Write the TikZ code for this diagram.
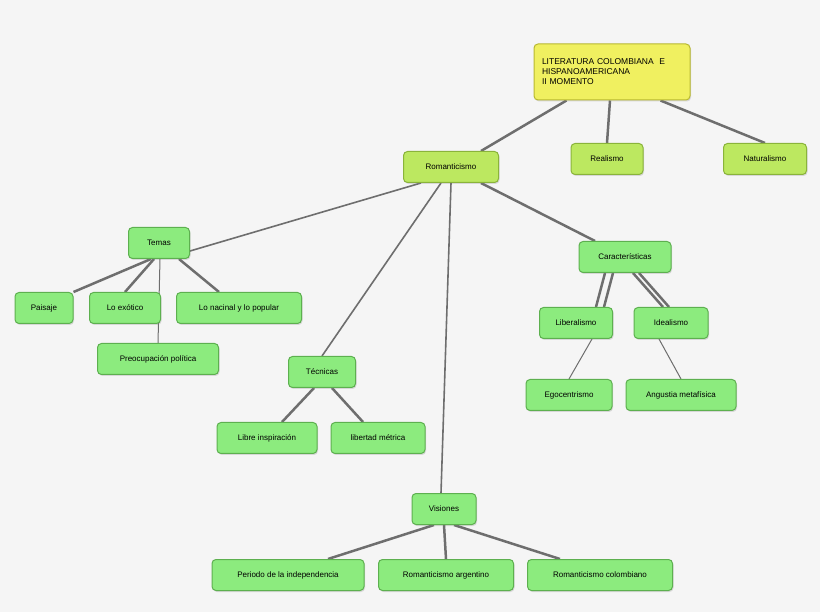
\documentclass[tikz,border=0pt]{standalone}
\usepackage{fontspec}
\setmainfont{Liberation Sans}
\usetikzlibrary{shadows,backgrounds}
\definecolor{bgc}{HTML}{F5F5F5}
\definecolor{greenfill}{HTML}{8CEB7E}
\definecolor{greenline}{HTML}{5DB04F}
\definecolor{limefill}{HTML}{BCE860}
\definecolor{limeline}{HTML}{8AB43A}
\definecolor{yelfill}{HTML}{F0F060}
\definecolor{yelline}{HTML}{B8B830}
\definecolor{linkc}{HTML}{6E6E6E}
\tikzset{
  box/.style={draw=greenline, fill=greenfill, rounded corners=4pt, line width=1pt,
    minimum height=31pt, font=\fontsize{8}{9}\selectfont, inner sep=0pt,
    drop shadow={shadow xshift=1pt, shadow yshift=-1.5pt, opacity=0.25}},
  lime/.style={box, draw=limeline, fill=limefill},
  link/.style={linkc, line width=2.5pt},
  mid/.style={linkc, line width=1.6pt},
  thin/.style={linkc, line width=1pt}
}
\begin{document}
\begin{tikzpicture}[x=1pt, y=-1pt]
  \useasboundingbox (0,0) rectangle (820,612);

  % top level
  \node[box, draw=yelline, fill=yelfill, minimum width=156pt, minimum height=56pt,
    align=left, text width=140pt, font=\fontsize{8.5}{10}\selectfont] (lit) at (612,72)
    {LITERATURA COLOMBIANA \ E\\HISPANOAMERICANA\\II MOMENTO};
  \node[lime, minimum width=95pt] (rom) at (451,167) {Romanticismo};
  \node[lime, minimum width=72pt] (rea) at (607,159) {Realismo};
  \node[lime, minimum width=83pt] (nat) at (765,159) {Naturalismo};

  % second level
  \node[box, minimum width=61pt] (tem) at (159,243) {Temas};
  \node[box, minimum width=92pt] (car) at (625,257) {Características};
  \node[box, minimum width=67pt] (tec) at (322,372) {Técnicas};
  \node[box, minimum width=64pt] (vis) at (444,509) {Visiones};

  % temas
  \node[box, minimum width=58pt] (pai) at (44,308) {Paisaje};
  \node[box, minimum width=71pt] (exo) at (125,308) {Lo exótico};
  \node[box, minimum width=125pt] (nac) at (239,308) {Lo nacinal y lo popular};
  \node[box, minimum width=121pt] (pre) at (158,359) {Preocupación política};

  % tecnicas
  \node[box, minimum width=100pt] (lib) at (267,438) {Libre inspiración};
  \node[box, minimum width=94pt] (met) at (378,438) {libertad métrica};

  % caracteristicas
  \node[box, minimum width=73pt] (lbr) at (576,323) {Liberalismo};
  \node[box, minimum width=74pt] (ide) at (671,323) {Idealismo};
  \node[box, minimum width=86pt] (ego) at (569,395) {Egocentrismo};
  \node[box, minimum width=110pt] (ang) at (681,395) {Angustia metafísica};

  % visiones
  \node[box, minimum width=152pt] (per) at (288,575) {Periodo de la independencia};
  \node[box, minimum width=135pt] (arg) at (446,575) {Romanticismo argentino};
  \node[box, minimum width=145pt] (col) at (600,575) {Romanticismo colombiano};

  % connectors
  \begin{scope}[on background layer]
  \fill[bgc] (0,0) rectangle (820,612);
  \draw[link] ([xshift=33pt]lit.south west) -- ([xshift=30pt]rom.north);
  \draw[link] ([xshift=-2pt]lit.south) -- (rea.north);
  \draw[link] ([xshift=-30pt]lit.south east) -- (nat.north);
  \draw[mid] ([xshift=-30pt]rom.south) -- ([yshift=-8pt]tem.east);
  \draw[mid] ([xshift=-10pt]rom.south) -- (tec.north);
  \draw[mid] ([xshift=0pt]rom.south) -- ([xshift=-3pt]vis.north);
  \draw[link] ([xshift=30pt]rom.south) -- ([xshift=-30pt]car.north);
  \draw[link] ([xshift=-8pt]tem.south) -- (pai.north east);
  \draw[link] ([xshift=-5pt]tem.south) -- (exo.north);
  \draw[link] ([xshift=20pt]tem.south) -- ([xshift=-20pt]nac.north);
  \draw[thin] ([xshift=1pt]tem.south) -- (pre.north);
  \draw[link] ([xshift=-8pt]tec.south) -- ([xshift=15pt]lib.north);
  \draw[link] ([xshift=10pt]tec.south) -- ([xshift=-15pt]met.north);
  \draw[link] ([xshift=-20pt]car.south) -- ([xshift=20pt]lbr.north);
  \draw[link] ([xshift=-12pt]car.south) -- ([xshift=28pt]lbr.north);
  \draw[link] ([xshift=8pt]car.south) -- ([xshift=-8pt]ide.north);
  \draw[link] ([xshift=14pt]car.south) -- ([xshift=-2pt]ide.north);
  \draw[thin] ([xshift=16pt]lbr.south) -- ([xshift=0pt]ego.north);
  \draw[thin] ([xshift=-12pt]ide.south) -- (ang.north);
  \draw[link] ([xshift=-10pt]vis.south) -- ([xshift=40pt]per.north);
  \draw[link] (vis.south) -- (arg.north);
  \draw[link] ([xshift=10pt]vis.south) -- ([xshift=-40pt]col.north);
  \end{scope}
\end{tikzpicture}
\end{document}
